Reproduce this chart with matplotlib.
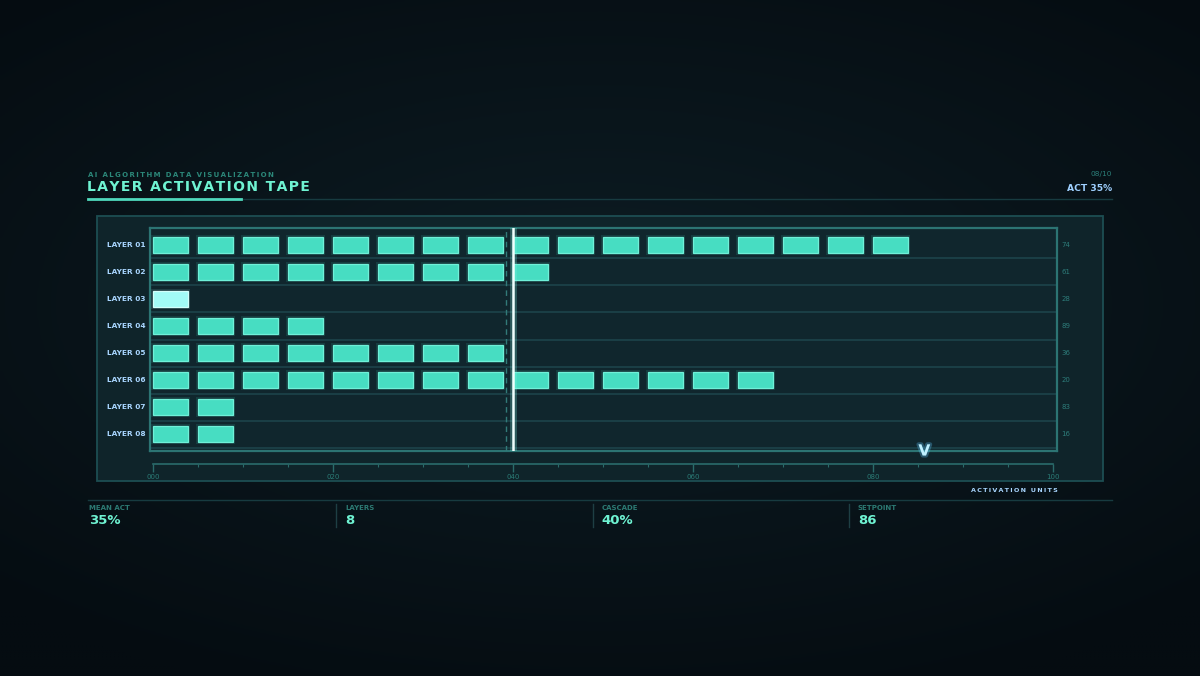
import numpy as np
import matplotlib
matplotlib.use('Agg')
import matplotlib.pyplot as plt
from matplotlib.patches import Rectangle
import matplotlib.patheffects as pe

# data
layers = ['LAYER 01', 'LAYER 02', 'LAYER 03', 'LAYER 04',
          'LAYER 05', 'LAYER 06', 'LAYER 07', 'LAYER 08']
blocks = [17, 9, 1, 4, 8, 14, 2, 2]
side_values = ['74', '61', '28', '89', '36', '20', '83', '16']
hot_layer = 'LAYER 03'
step = 5
cascade = 40
prev_cascade = 39.2
setpoint = 86
x_ticks = [0, 20, 40, 60, 80, 100]
tick_labels = ['000', '020', '040', '060', '080', '100']
stat_names = ['MEAN ACT', 'LAYERS', 'CASCADE', 'SETPOINT']
stat_values = ['35%', '8', '40%', '86']

W, H = 1200, 676
fig = plt.figure(figsize=(12, 6.76), dpi=100)


def fx(x):
    return x / W


def fy(y):
    return 1 - y / H


def spaced(s, sep='\u200a'):
    return sep.join(s)


# background
bg = fig.add_axes([0, 0, 1, 1], zorder=-10)
yy, xx = np.mgrid[0:1:300j, 0:1:300j]
r = np.sqrt(((xx - 0.5) * 1.1) ** 2 + ((yy - 0.45) * 1.3) ** 2)
t = np.clip(r / 0.8, 0, 1)[..., None]
c_in = np.array([0x0d, 0x1d, 0x24]) / 255
c_out = np.array([0x05, 0x0c, 0x11]) / 255
bg.imshow(c_in * (1 - t) + c_out * t, aspect='auto', extent=[0, 1, 1, 0])
bg.axis('off')

# outer panel
fig.add_artist(Rectangle((fx(97), fy(481)), (1103 - 97) / W, (481 - 216) / H,
                         transform=fig.transFigure, fc='#0f242a', ec='#1d4e52', lw=1.3,
                         zorder=-5))

# main chart
ax = fig.add_axes([fx(150), fy(451), 907 / W, 223 / H])
ax.set_facecolor('#10262d')
x0, x1 = (150 - 153) / 9, (1057 - 153) / 9
y_top, y_bot = (228 - 245) / 27, (451 - 245) / 27
ax.set_xlim(x0, x1)
ax.set_ylim(y_bot, y_top)
for s in ax.spines.values():
    s.set_color('#2c7473')
    s.set_linewidth(1.6)
ax.set_xticks([])
ax.set_yticks([])

for i in range(len(layers) - 1):
    ax.axhline(i + 0.5, color='#1d444a', lw=1.2, zorder=1)
ax.axhline(len(layers) - 0.5, color='#1d444a', lw=1.2, zorder=1)

bw, bh = 3.9, 0.6
for i, (name, n) in enumerate(zip(layers, blocks)):
    xs = np.arange(n) * step
    if name == hot_layer:
        fc, ec = '#a2fbf6', '#d2fffb'
    else:
        fc, ec = '#47ddc2', '#6ff0d8'
    ax.bar(xs - 0.25, bh + 0.14, width=bw + 0.5, bottom=i - (bh + 0.14) / 2, align='edge',
           color=fc, alpha=0.12, lw=0, zorder=2)
    ax.bar(xs, bh, width=bw, bottom=i - bh / 2, align='edge',
           color=fc, edgecolor=ec, lw=0.9, zorder=3)

ax.axvline(prev_cascade, color='#327a79', lw=1, ls=(0, (4, 3)), zorder=4)
ax.axvline(cascade, color='#effffd', lw=1.8, zorder=5,
           path_effects=[pe.Stroke(linewidth=5, foreground='#7ff5e6', alpha=0.25), pe.Normal()])

ax.text(setpoint - 0.3, y_bot, 'V', ha='center', va='center', color='#c0f0ff', fontsize=11,
        fontweight='bold', clip_on=False, zorder=6,
        path_effects=[pe.withStroke(linewidth=3, foreground='#5fc8ff', alpha=0.3)])

# layer labels
for i, (name, v) in enumerate(zip(layers, side_values)):
    ax.text(x0 - 0.5, i, name, ha='right', va='center', color='#a9d6ff',
            fontsize=5.3, fontweight='bold', clip_on=False)
    ax.text(x1 + 0.5, i, v, ha='left', va='center', color='#2d7c7a',
            fontsize=5, clip_on=False)

# x scale
axx = fig.add_axes([fx(150), fy(464), 907 / W, 0.0001])
axx.set_xlim(x0, x1)
axx.patch.set_alpha(0)
for k in ['top', 'left', 'right']:
    axx.spines[k].set_visible(False)
axx.spines['bottom'].set_color('#2a6b6b')
axx.spines['bottom'].set_linewidth(1.2)
axx.spines['bottom'].set_bounds(0, 100)
axx.set_yticks([])
axx.set_xticks(x_ticks)
axx.set_xticklabels(tick_labels)
axx.set_xticks(np.arange(0, 101, 5), minor=True)
axx.tick_params(axis='x', which='major', length=6, width=1, color='#2a6b6b',
                labelsize=5, labelcolor='#2b7c77', pad=1)
axx.tick_params(axis='x', which='minor', length=2.5, width=0.8, color='#2a6b6b')

fig.text(fx(1058), fy(491), spaced('ACTIVATION UNITS', '\u2009'), ha='right', va='center',
         color='#a9d6ff', fontsize=4.6, fontweight='bold')

# header
fig.text(fx(88), fy(175), spaced('AI ALGORITHM DATA VISUALIZATION', '\u2009'),
         ha='left', va='center', color='#2b8779', fontsize=5, fontweight='bold')
fig.text(fx(87), fy(187), spaced('LAYER ACTIVATION TAPE'), ha='left', va='center',
         color='#6ff3d2', fontsize=10, fontweight='bold')
fig.add_artist(plt.Line2D([fx(88), fx(1112)], [fy(198.5), fy(198.5)], transform=fig.transFigure,
                          color='#173b40', lw=1))
fig.add_artist(plt.Line2D([fx(88), fx(241)], [fy(198.5), fy(198.5)], transform=fig.transFigure,
                          color='#4fd8bc', lw=2))
fig.text(fx(1112), fy(174), '08/10', ha='right', va='center', color='#2b7f79', fontsize=5.3)
fig.text(fx(1112), fy(189), 'ACT 35%', ha='right', va='center', color='#9fd0ff',
         fontsize=6.6, fontweight='bold')

# footer stats
fig.add_artist(plt.Line2D([fx(88), fx(1112)], [fy(499.5), fy(499.5)], transform=fig.transFigure,
                          color='#173b40', lw=1))
for k, (name, val) in enumerate(zip(stat_names, stat_values)):
    x = 89 + k * 256.3
    if k > 0:
        fig.add_artist(plt.Line2D([fx(x - 9), fx(x - 9)], [fy(504), fy(527)],
                                  transform=fig.transFigure, color='#1e3f44', lw=1))
    fig.text(fx(x), fy(507.5), name, ha='left', va='center', color='#2c7a73',
             fontsize=5, fontweight='bold')
    fig.text(fx(x), fy(521), val, ha='left', va='center', color='#6ff3d2',
             fontsize=9.5, fontweight='bold')

fig.savefig('out.png', dpi=100, facecolor='#071015')
